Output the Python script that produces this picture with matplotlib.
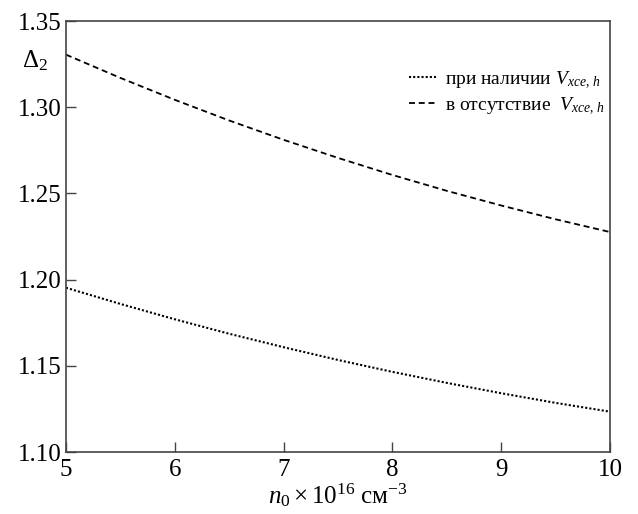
import numpy as np
import matplotlib
matplotlib.use("Agg")
import matplotlib.pyplot as plt

plt.rcParams["font.family"] = "serif"
plt.rcParams["font.serif"] = ["Liberation Serif", "DejaVu Serif"]
plt.rcParams["mathtext.fontset"] = "custom"
plt.rcParams["mathtext.rm"] = "Liberation Serif"
plt.rcParams["mathtext.it"] = "Liberation Serif:italic"

# values
n0 = [5, 5.5, 6, 6.5, 7, 7.5, 8, 8.5, 9, 9.5, 10]
delta_with = [1.1953, 1.1859, 1.1770, 1.1686, 1.1608, 1.1534, 1.1465, 1.1401, 1.1341, 1.1285, 1.1234]
delta_without = [1.3305, 1.3170, 1.3043, 1.2923, 1.2811, 1.2706, 1.2607, 1.2515, 1.2430, 1.2350, 1.2276]

xticks = [5, 6, 7, 8, 9, 10]
yticks = [1.10, 1.15, 1.20, 1.25, 1.30, 1.35]

fig = plt.figure(figsize=(6.38, 5.14), dpi=100)
ax = fig.add_axes([0.1034, 0.1206, 0.8527, 0.8385])

ax.plot(n0, delta_with, color="black", linestyle=(0, (1.0, 1.0)), linewidth=1.5,
        label=r"при наличии $V_{xce,\,h}$")
ax.plot(n0, delta_without, color="black", linestyle=(0, (3.3, 2.1)), linewidth=1.3,
        label=r"в отсутствие  $V_{xce,\,h}$")

ax.set_xlim(5, 10)
ax.set_ylim(1.10, 1.35)
ax.set_xticks(xticks)
ax.set_yticks(yticks)
ax.set_yticklabels([f"{v:.2f}" for v in yticks])
ax.tick_params(direction="in", length=7, width=1.0, labelsize=18, color="#444444",
               top=False, right=False)
ax.tick_params(axis="x", pad=5)
ax.tick_params(axis="y", pad=3)
for sp in ax.spines.values():
    sp.set_color("#444444")
    sp.set_linewidth(1.2)

ax.text(-0.033, 0.909, r"$\Delta_2$", transform=ax.transAxes, fontsize=18,
        ha="right", va="center")
ax.set_xlabel(r"$n_0\times10^{16}$ см$^{-3}$", fontsize=18, labelpad=0)

ax.legend(loc="upper right", bbox_to_anchor=(0.99, 0.888), frameon=False, fontsize=14,
          handlelength=1.4, handletextpad=0.45, labelspacing=0.25,
          borderaxespad=0, borderpad=0)

fig.savefig("out.png", dpi=100)
